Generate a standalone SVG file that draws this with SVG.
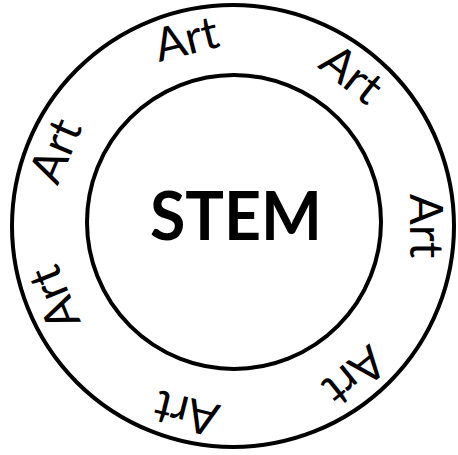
<svg xmlns="http://www.w3.org/2000/svg" width="458" height="455" viewBox="0 0 458 455">
  <style>
    .ring { fill: none; stroke: #000; stroke-width: 4; }
    .art { font-family: Lato, "Open Sans", "Liberation Sans", sans-serif; font-size: 46px; fill: #000; text-anchor: middle; }
    .stem { font-family: Lato, "Open Sans", "Liberation Sans", sans-serif; font-size: 66px; font-weight: bold; fill: #000; text-anchor: middle; }
  </style>
  <rect width="458" height="455" fill="#fff"/>
  <g id="outer-ring">
    <circle class="ring" cx="233" cy="226" r="221"/>
    <text class="art" x="233" y="49" transform="rotate(-14 233 226)">Art</text>
    <text class="art" x="233" y="49" transform="rotate(38 233 226)">Art</text>
    <text class="art" x="233" y="49" transform="rotate(90 233 226)">Art</text>
    <text class="art" x="233" y="49" transform="rotate(141 233 226)">Art</text>
    <text class="art" x="233" y="49" transform="rotate(194 233 226)">Art</text>
    <text class="art" x="233" y="49" transform="rotate(248 233 226)">Art</text>
    <text class="art" x="233" y="49" transform="rotate(293 233 226)">Art</text>
  </g>
  <g id="inner-circle">
    <circle class="ring" cx="234" cy="222" r="147"/>
    <text class="stem" x="236" y="240" textLength="172" lengthAdjust="spacingAndGlyphs">STEM</text>
  </g>
  <g id="connectors"/>
</svg>
